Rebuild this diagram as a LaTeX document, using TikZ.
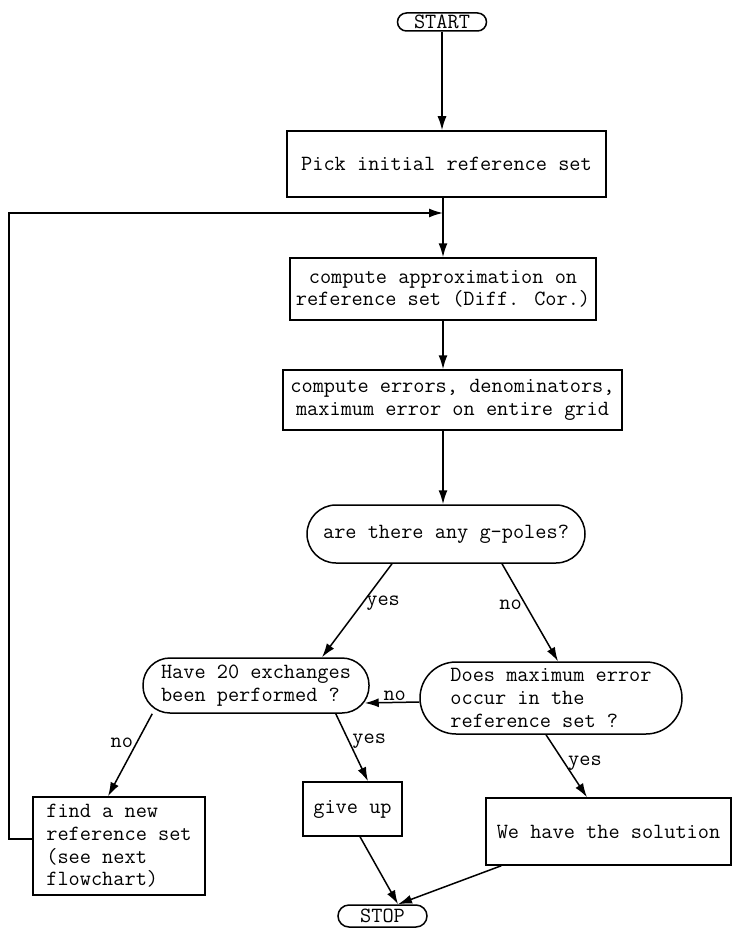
\documentclass[tikz,border=0pt]{standalone}
\usetikzlibrary{arrows.meta}
\begin{document}
\begin{tikzpicture}[x=1pt,y=-1pt,
  txt/.style={font=\fontsize{21.7}{22.7}\selectfont\ttfamily},
  base/.style={txt, draw, line width=1.5pt, inner sep=0pt},
  box/.style={base, rectangle},
  stad/.style={base, rounded corners=#1},
  arr/.style={line width=1.5pt, -{Latex[length=14pt,width=9pt]}},
  lab/.style={txt, inner sep=3pt}]
\useasboundingbox (0,0) rectangle (733,928);

\node[stad=9pt, minimum width=89pt, minimum height=18pt] (start) at (442,22) {START};
\node[box, minimum width=319pt, minimum height=66pt] (pick) at (446.5,164) {Pick initial reference set};
\node[box, minimum width=306pt, minimum height=62pt, align=center] (approx) at (443,289)
  {compute approximation on\\reference set (Diff. Cor.)};
\node[box, minimum width=339pt, minimum height=60pt, align=center] (errors) at (452.5,400)
  {compute errors, denominators,\\maximum error on entire grid};
\node[stad=29pt, minimum width=278pt, minimum height=58pt] (gpoles) at (446,534) {are there any g-poles?};
\node[stad=27pt, minimum width=226pt, minimum height=55pt, align=left] (have) at (256,685.5)
  {Have 20 exchanges\\been performed ?};
\node[stad=36pt, minimum width=262pt, minimum height=72pt, align=left] (does) at (551,698)
  {Does maximum error\\occur in the\\reference set ?};
\node[box, minimum width=172pt, minimum height=98pt, align=left] (find) at (119,846)
  {find a new\\reference set\\(see next\\flowchart)};
\node[box, minimum width=99pt, minimum height=54pt] (giveup) at (352.5,809) {give up};
\node[box, minimum width=245pt, minimum height=67pt] (sol) at (608.5,831.5) {We have the solution};
\node[stad=11pt, minimum width=89pt, minimum height=22pt] (stop) at (382.5,916) {STOP};

\coordinate (J) at (443,213);
\coordinate (L) at (9,213);

\draw[arr] (start.south) -- (start.south |- pick.north);
\draw[line width=1.5pt] (approx.north |- pick.south) -- (J);
\draw[arr] (J) -- (approx.north);
\draw[arr] ([yshift=7pt]find.west) -| (L) -- (J);
\draw[arr] (approx.south) -- (approx.south |- errors.north);
\draw[arr] (approx.south |- errors.south) -- (approx.south |- gpoles.north);

\draw[arr] ([xshift=-54pt]gpoles.south) -- node[lab, right, pos=0.42] {yes} ([xshift=66pt]have.north);
\draw[arr] ([xshift=56pt]gpoles.south) -- node[lab, left, pos=0.42] {no} ([xshift=7pt]does.north);
\draw[arr] ([yshift=-4pt]does.west) -- node[lab, above, pos=0.45, inner sep=1pt] {no} ([xshift=-5pt,yshift=-17.5pt]have.east);
\draw[arr] ([xshift=10pt]have.south west) -- node[lab, left, pos=0.35] {no} ([xshift=-11pt]find.north);
\draw[arr] ([xshift=-34pt]have.south east) -- node[lab, right, pos=0.4] {yes} ([xshift=15.5pt]giveup.north);
\draw[arr] ([xshift=-5pt]does.south) -- node[lab, right, pos=0.45] {yes} ([xshift=-21.5pt]sol.north);
\draw[arr] ([xshift=7.5pt]giveup.south) -- ([xshift=15.5pt]stop.north);
\draw[arr] ([xshift=16pt]sol.south west) -- ([xshift=15.5pt]stop.north);
\end{tikzpicture}
\end{document}
